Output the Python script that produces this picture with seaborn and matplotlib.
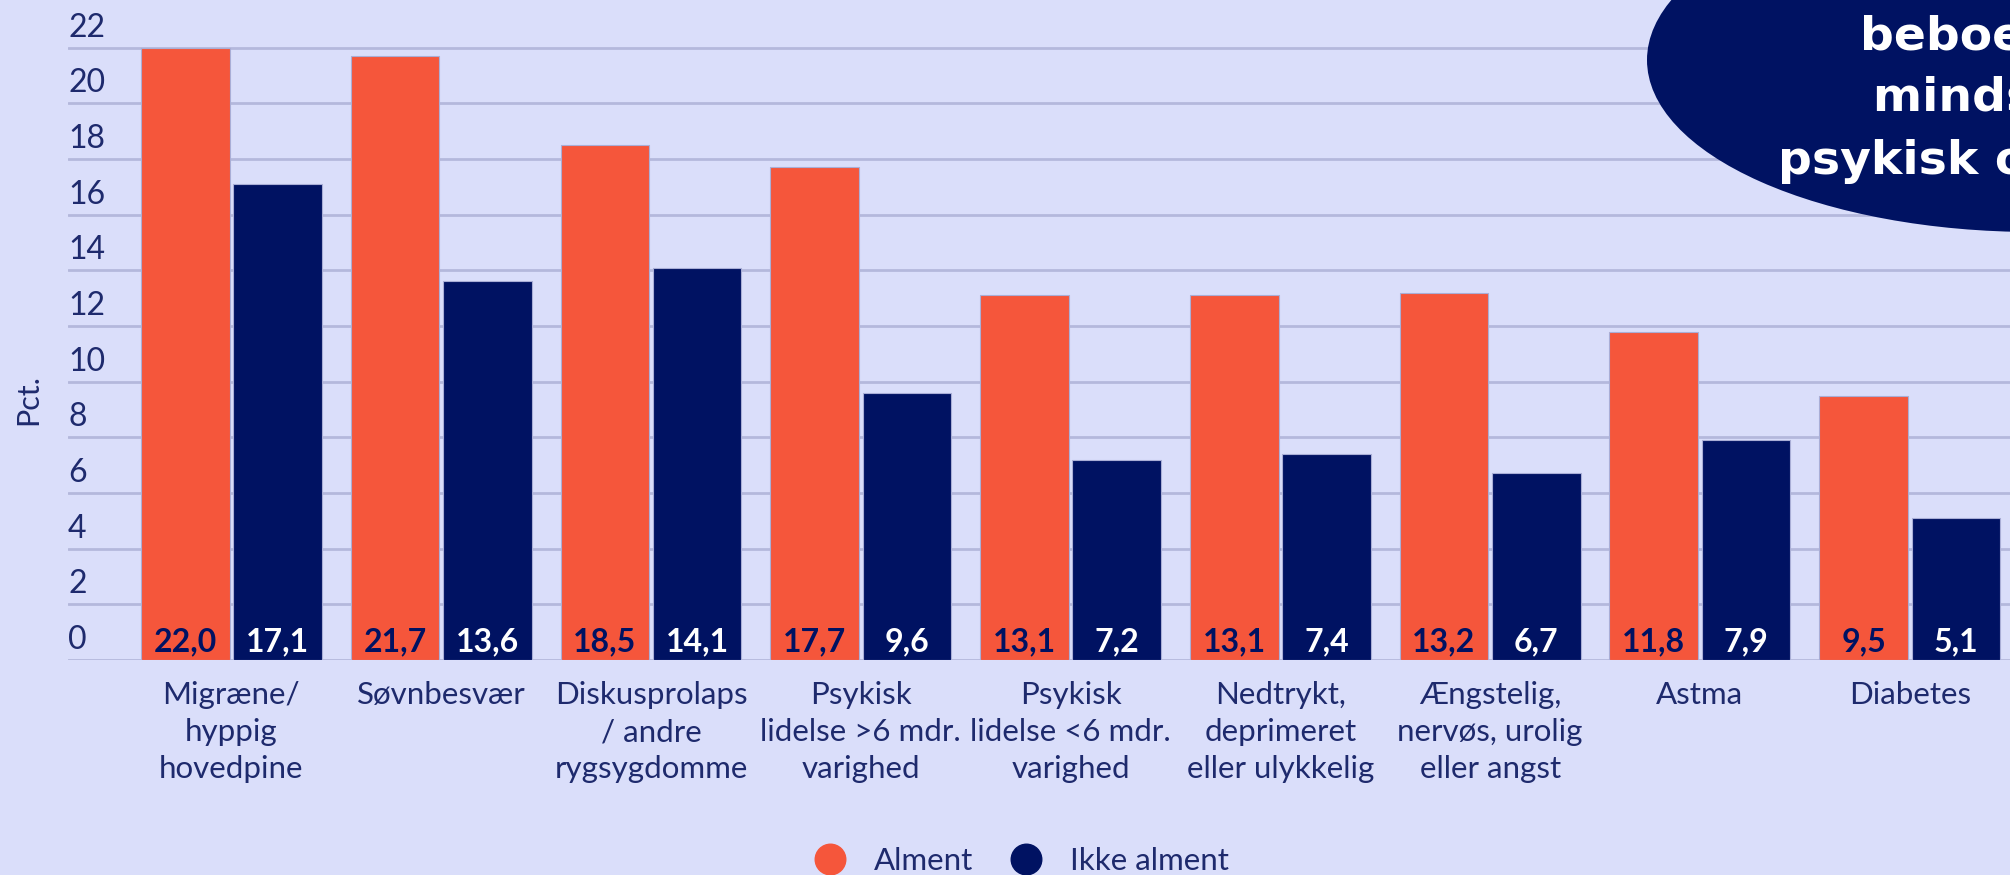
import matplotlib.pyplot as plt
import matplotlib.transforms as mtransforms
from matplotlib.patches import Ellipse
from matplotlib.lines import Line2D
import pandas as pd
import seaborn as sns

# data
categories = [
    "Migræne/\nhyppig\nhovedpine",
    "Søvnbesvær",
    "Diskusprolaps\n/ andre\nrygsygdomme",
    "Psykisk\nlidelse >6 mdr.\nvarighed",
    "Psykisk\nlidelse <6 mdr.\nvarighed",
    "Nedtrykt,\ndeprimeret\neller ulykkelig",
    "Ængstelig,\nnervøs, urolig\neller angst",
    "Astma",
    "Diabetes",
]
alment = [22.0, 21.7, 18.5, 17.7, 13.1, 13.1, 13.2, 11.8, 9.5]
ikke_alment = [17.1, 13.6, 14.1, 9.6, 7.2, 7.4, 6.7, 7.9, 5.1]
groups = ["Alment", "Ikke alment"]
y_ticks = list(range(0, 23, 2))
bubble_lines = ["beboere", "mindst én", "psykisk og"]

BG = "#dadefa"
ORANGE = "#f5563b"
NAVY = "#001262"
TEXT = "#1e2a6d"
GRID = "#b4b8dc"

df = pd.DataFrame({
    "kategori": categories * 2,
    "gruppe": [groups[0]] * len(categories) + [groups[1]] * len(categories),
    "pct": alment + ikke_alment,
})

sns.set_theme(style="white", rc={"axes.facecolor": BG, "figure.facecolor": BG})
plt.rcParams["font.family"] = ["Lato", "DejaVu Sans"]

W, H = 2010, 875
fig = plt.figure(figsize=(W / 100, H / 100), dpi=100)
ax = fig.add_axes([68 / W, 1 - 660 / H, 1 - 68 / W, 660 / H])

sns.barplot(data=df, x="kategori", y="pct", hue="gruppe", palette=[ORANGE, NAVY],
            saturation=1, width=0.88, gap=0.04, errorbar=None, legend=False,
            edgecolor="#a9aed6", linewidth=0.8, ax=ax, zorder=2)

ax.set_xlim(-0.779, 8.478)
ax.set_ylim(0, 23.71)
sns.despine(ax=ax, left=True, bottom=True)
ax.set_yticks(y_ticks)
ax.set_yticklabels([])
ax.yaxis.grid(True, color=GRID, linewidth=2)
ax.set_axisbelow(True)
ax.set_xlabel("")
ax.set_ylabel("")
ax.tick_params(axis="x", length=0, pad=15, labelsize=22.5, labelcolor=TEXT)
ax.tick_params(axis="y", length=0)
for lab in ax.get_xticklabels():
    lab.set_linespacing(1.4)

# y tick labels sit above their gridlines
ytrans = mtransforms.offset_copy(ax.get_yaxis_transform(), fig=fig, y=20, units="dots")
for v in y_ticks:
    ax.text(0, v, str(v), transform=ytrans, ha="left", va="center",
            fontsize=23, color=TEXT)

fig.text(28 / W, 1 - 400 / H, "Pct.", rotation=90, ha="center", va="center",
         fontsize=22, color=TEXT)

# value labels at the foot of each bar
vtrans = mtransforms.offset_copy(ax.transData, fig=fig, y=18, units="dots")
for container, values, col in zip(ax.containers, [alment, ikke_alment], [NAVY, "white"]):
    for bar, v in zip(container, values):
        ax.text(bar.get_x() + bar.get_width() / 2, 0, f"{v:.1f}".replace(".", ","),
                transform=vtrans, ha="center", va="center", fontsize=23,
                fontweight="bold", color=col, zorder=3)

handles = [Line2D([], [], marker="o", linestyle="", markersize=22,
                  markerfacecolor=c, markeredgecolor=c) for c in [ORANGE, NAVY]]
fig.legend(handles, groups, loc="center", bbox_to_anchor=(1014 / W, 1 - 861 / H),
           ncol=2, frameon=False, fontsize=22.5, labelcolor=TEXT,
           handletextpad=0.4, columnspacing=0.7, borderpad=0)

# dark bubble overlay in the top right corner (cut by the image edge, as in the source)
fig.add_artist(Ellipse((2034 / W, 1 - 60 / H), 774 / W, 344 / H,
                       transform=fig.transFigure, facecolor=NAVY,
                       edgecolor="none", zorder=5))
for txt, x0, base in zip(bubble_lines, [1860, 1873, 1778], [50, 112, 174]):
    fig.text(x0 / W, 1 - base / H, txt, ha="left", va="baseline", color="white",
             fontsize=34, fontweight="bold", family="DejaVu Sans", zorder=6)

fig.savefig("out.png", dpi=100, facecolor=BG)
